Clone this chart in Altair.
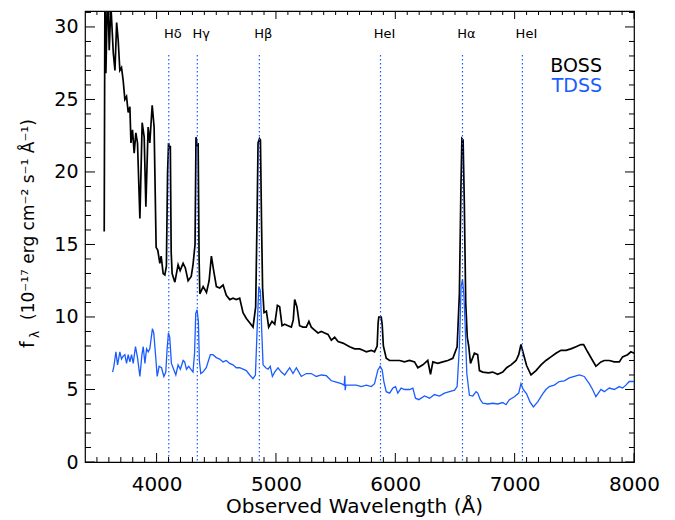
import altair as alt
import pandas as pd

# ---------------- data ----------------
boss_wave = [3561, 3567, 3575, 3590, 3603, 3617, 3637, 3651, 3665, 3678, 3692, 3706, 3720, 3734, 3748,
             3762, 3776, 3785, 3798, 3812, 3826, 3840, 3860, 3879, 3896, 3910, 3929, 3943, 3963, 3979,
             3996, 4010, 4027, 4038, 4055, 4069, 4082, 4092, 4100, 4108, 4115, 4122, 4130, 4153, 4180,
             4197, 4222, 4240, 4264, 4290, 4305, 4322, 4330, 4340, 4348, 4356, 4362, 4390, 4418, 4440,
             4459, 4478, 4501, 4529, 4557, 4584, 4613, 4640, 4668, 4696, 4724, 4752, 4780, 4808, 4830,
             4842, 4850, 4862, 4870, 4880, 4888, 4900, 4920, 4939, 4967, 4990, 5012, 5031, 5051, 5073,
             5101, 5129, 5145, 5157, 5176, 5198, 5226, 5254, 5276, 5296, 5324, 5352, 5380, 5408, 5436,
             5464, 5492, 5520, 5561, 5617, 5659, 5701, 5729, 5757, 5799, 5826, 5848, 5856, 5862, 5882,
             5890, 5900, 5924, 5952, 5994, 6036, 6077, 6119, 6161, 6189, 6231, 6272, 6295, 6315, 6356,
             6398, 6440, 6482, 6518, 6537, 6550, 6558, 6568, 6578, 6590, 6603, 6615, 6630, 6663, 6690,
             6705, 6733, 6780, 6816, 6858, 6900, 6933, 6970, 7012, 7034, 7053, 7072, 7100, 7137, 7179,
             7221, 7262, 7304, 7346, 7388, 7430, 7471, 7514, 7555, 7578, 7611, 7653, 7681, 7723, 7751,
             7793, 7835, 7877, 7904, 7946, 7974, 8002]
boss_flux = [15.9, 33.0, 26.8, 33.0, 28.4, 31.5, 28.2, 27.0, 30.3, 29.1, 27.0, 27.2, 26.3, 25.0, 25.2,
             24.1, 24.5, 22.0, 22.9, 21.3, 22.7, 22.0, 16.8, 23.4, 22.4, 17.6, 23.1, 22.0, 24.6, 23.1,
             14.8, 14.6, 13.7, 14.2, 13.0, 12.9, 13.5, 20.0, 22.0, 21.6, 21.8, 14.5, 13.0, 12.4, 13.6,
             13.2, 13.7, 13.4, 12.5, 12.8, 13.6, 15.0, 22.4, 21.8, 22.0, 14.0, 11.6, 12.1, 11.7, 12.5,
             14.2, 13.2, 12.1, 12.0, 12.2, 11.5, 11.2, 11.3, 11.2, 11.3, 10.3, 9.9, 9.6, 9.3, 10.7,
             17.0, 22.0, 22.3, 22.2, 16.0, 12.0, 10.3, 10.4, 9.3, 9.7, 9.5, 10.8, 10.7, 9.4, 9.5,
             9.4, 9.3, 9.8, 11.2, 10.7, 9.4, 9.3, 9.3, 9.7, 9.3, 9.1, 8.9, 9.0, 8.9, 8.8,
             8.4, 8.6, 8.3, 8.2, 7.95, 7.8, 7.8, 7.7, 7.6, 7.7, 7.6, 8.0, 9.6, 10.0, 10.0,
             9.5, 8.0, 7.15, 7.0, 7.0, 7.0, 6.9, 7.0, 6.9, 6.5, 6.7, 7.0, 6.05, 6.9, 6.8,
             6.9, 7.0, 7.15, 7.95, 11.6, 19.0, 22.3, 22.2, 18.0, 11.0, 8.6, 8.0, 6.8, 7.5, 7.4,
             6.3, 6.2, 6.15, 6.2, 6.05, 6.2, 6.5, 6.7, 7.0, 7.4, 8.1, 7.5, 6.65, 6.0, 6.3,
             6.7, 7.0, 7.25, 7.5, 7.7, 7.7, 7.8, 7.95, 8.1, 8.1, 7.6, 7.0, 6.6, 6.9, 7.0,
             7.0, 6.9, 6.9, 7.25, 7.4, 7.6, 7.5]

tdss_wave = [3631, 3642, 3659, 3673, 3692, 3706, 3720, 3734, 3748, 3762, 3776, 3790, 3804, 3823, 3840,
             3860, 3877, 3888, 3902, 3916, 3930, 3943, 3965, 3976, 3990, 4005, 4021, 4041, 4061, 4077,
             4088, 4099, 4110, 4124, 4138, 4161, 4180, 4199, 4222, 4235, 4250, 4269, 4286, 4305, 4318,
             4328, 4339, 4350, 4358, 4370, 4388, 4416, 4450, 4472, 4500, 4528, 4557, 4584, 4612, 4640,
             4668, 4696, 4724, 4752, 4780, 4808, 4828, 4841, 4856, 4870, 4881, 4892, 4914, 4934, 4952,
             4970, 4989, 5017, 5045, 5073, 5115, 5143, 5171, 5212, 5254, 5296, 5338, 5380, 5422, 5464,
             5506, 5548, 5572, 5577, 5580, 5586, 5631, 5673, 5715, 5757, 5799, 5826, 5854, 5873, 5890,
             5905, 5924, 5952, 5980, 6002, 6021, 6049, 6077, 6119, 6147, 6169, 6197, 6245, 6287, 6328,
             6370, 6412, 6454, 6496, 6518, 6537, 6551, 6563, 6575, 6585, 6599, 6621, 6649, 6677, 6691,
             6712, 6733, 6775, 6816, 6858, 6900, 6928, 6956, 6998, 7034, 7053, 7072, 7100, 7128, 7157,
             7193, 7235, 7262, 7290, 7332, 7374, 7416, 7458, 7500, 7542, 7583, 7625, 7653, 7681, 7723,
             7751, 7793, 7835, 7877, 7904, 7932, 7960, 8002]
tdss_flux = [6.2, 6.6, 7.6, 6.7, 7.6, 7.1, 7.3, 7.4, 6.8, 7.4, 6.9, 7.4, 6.8, 7.95, 7.2,
             5.9, 7.4, 7.95, 6.8, 7.8, 7.6, 7.8, 9.2, 8.9, 7.5, 5.9, 6.6, 6.5, 5.9, 6.2,
             7.8, 8.9, 8.6, 6.8, 6.5, 6.0, 6.7, 6.4, 7.0, 6.9, 6.4, 6.6, 6.4, 6.2, 7.5,
             10.25, 10.5, 9.7, 7.0, 6.1, 6.2, 6.5, 7.4, 7.4, 7.2, 7.1, 6.9, 7.0, 6.8, 6.7,
             6.5, 6.5, 6.4, 6.3, 6.0, 5.75, 6.0, 8.9, 12.1, 11.8, 9.0, 6.7, 6.5, 6.4, 6.6,
             5.9, 6.2, 6.5, 6.2, 6.0, 6.5, 6.1, 6.5, 5.9, 6.1, 6.1, 5.9, 6.0, 5.95, 5.6,
             5.5, 5.4, 5.3, 5.95, 4.95, 5.3, 5.3, 5.3, 5.2, 5.3, 5.2, 5.4, 6.35, 6.6, 6.35,
             5.5, 4.85, 4.75, 5.1, 5.2, 4.75, 5.1, 5.0, 5.0, 5.1, 4.4, 4.3, 4.55, 4.4, 4.65,
             4.55, 4.75, 4.85, 4.95, 5.2, 7.95, 12.1, 12.6, 11.5, 9.5, 6.1, 4.6, 4.55, 4.85, 4.75,
             4.3, 4.05, 4.0, 4.05, 4.0, 4.1, 3.95, 4.3, 4.5, 4.75, 5.4, 5.0, 4.7, 4.15, 3.8,
             4.15, 4.7, 5.0, 5.2, 5.3, 5.55, 5.6, 5.8, 5.9, 6.0, 5.9, 5.4, 5.0, 4.5, 5.0,
             4.85, 5.1, 5.0, 5.2, 5.1, 5.3, 5.55, 5.55]

line_wave = [4102, 4341, 4861, 5876, 6563, 7065]
line_name = ["H\u03b4", "H\u03b3", "H\u03b2", "HeI", "H\u03b1", "HeI"]

x_major = [4000, 5000, 6000, 7000, 8000]
x_minor = [v for v in range(3500, 8000, 100) if v % 1000 != 0]
y_major = [0, 5, 10, 15, 20, 25, 30]
y_minor = [v for v in range(0, 32) if v % 5 != 0]

y_title_main = "(10\u207b\u00b9\u2077 erg cm\u207b\u00b2 s\u207b\u00b9 \u00c5\u207b\u00b9)"

# ---------------- styling ----------------
W, H = 549, 451
FONT = "DejaVu Sans"
BLUE = "#1a5cff"
xs = alt.Scale(domain=[3400, 8000], nice=False, zero=False)
ys = alt.Scale(domain=[0, 31.1], nice=False, zero=False)

boss = pd.DataFrame({"wave": boss_wave, "flux": boss_flux})
tdss = pd.DataFrame({"wave": tdss_wave, "flux": tdss_flux})
lines = pd.DataFrame({"wave": line_wave, "name": line_name})

x_axis = alt.Axis(values=x_major, format="d", ticks=False, domain=False, grid=False,
                  labelFontSize=20, labelPadding=12, labelFont=FONT, labelColor="black",
                  labelFlush=False,
                  title="Observed Wavelength (\u00c5)", titleFontSize=20, titleFont=FONT,
                  titleFontWeight="normal", titlePadding=2, titleColor="black", titleX=269)
y_axis = alt.Axis(values=y_major, format="d", ticks=False, domain=False, grid=False,
                  labelFontSize=19, labelPadding=7, labelFont=FONT, labelColor="black",
                  labelFlush=False, title=None)

boss_line = alt.Chart(boss).mark_line(color="black", strokeWidth=1.7, clip=True).encode(
    x=alt.X("wave:Q", scale=xs, axis=x_axis),
    y=alt.Y("flux:Q", scale=ys, axis=y_axis),
)
tdss_line = alt.Chart(tdss).mark_line(color=BLUE, strokeWidth=1.3, clip=True).encode(
    x=alt.X("wave:Q", scale=xs),
    y=alt.Y("flux:Q", scale=ys),
)
dotted = alt.Chart(lines).mark_rule(color=BLUE, strokeDash=[1.5, 2.5], strokeWidth=1.2).encode(
    x=alt.X("wave:Q", scale=xs),
    y=alt.value(44), y2=alt.value(H),
)
labels = alt.Chart(lines).mark_text(font=FONT, fontSize=13, color="black", baseline="alphabetic",
                                    align="center", dx=4).encode(
    x=alt.X("wave:Q", scale=xs),
    y=alt.value(27),
    text="name:N",
)
leg_boss = alt.Chart(pd.DataFrame({"t": ["BOSS"]})).mark_text(
    font=FONT, fontSize=19, color="black", align="right", baseline="alphabetic").encode(
    x=alt.value(517), y=alt.value(61), text="t:N")
leg_tdss = alt.Chart(pd.DataFrame({"t": ["TDSS"]})).mark_text(
    font=FONT, fontSize=19, color=BLUE, align="right", baseline="alphabetic").encode(
    x=alt.value(517), y=alt.value(81), text="t:N")

# y-axis title built from pieces so that lambda can be a subscript
yt_f = alt.Chart(pd.DataFrame({"t": ["f"]})).mark_text(
    font=FONT, fontSize=19, color="black", align="left", baseline="alphabetic", angle=270).encode(
    x=alt.value(-51), y=alt.value(337), text="t:N")
yt_lam = alt.Chart(pd.DataFrame({"t": ["\u03bb"]})).mark_text(
    font=FONT, fontSize=12, color="black", align="left", baseline="alphabetic", angle=270).encode(
    x=alt.value(-46), y=alt.value(327), text="t:N")
yt_main = alt.Chart(pd.DataFrame({"t": [y_title_main]})).mark_text(
    font=FONT, fontSize=17, color="black", align="left", baseline="alphabetic", angle=270).encode(
    x=alt.value(-51), y=alt.value(309), text="t:N")


def xticks(values, y0, y1):
    return alt.Chart(pd.DataFrame({"wave": values})).mark_rule(color="black", strokeWidth=1).encode(
        x=alt.X("wave:Q", scale=xs), y=alt.value(y0), y2=alt.value(y1))


def yticks(values, x0, x1):
    return alt.Chart(pd.DataFrame({"flux": values})).mark_rule(color="black", strokeWidth=1).encode(
        y=alt.Y("flux:Q", scale=ys), x=alt.value(x0), x2=alt.value(x1))


ticks = [
    xticks(x_major, H, H - 9), xticks(x_minor, H, H - 5),
    xticks(x_major, 0, 8), xticks(x_minor, 0, 4),
    yticks(y_major, 0, 10), yticks(y_minor, 0, 6),
    yticks(y_major, W, W - 9), yticks(y_minor, W, W - 5),
]

chart = alt.layer(boss_line, tdss_line, dotted, labels, leg_boss, leg_tdss,
                  yt_f, yt_lam, yt_main, *ticks).properties(
    width=W, height=H,
    padding={"left": 85, "top": 11, "right": 41, "bottom": 58},
    autosize=alt.AutoSizeParams(type="none"),
).configure(background="white").configure_view(stroke="black", strokeWidth=1.2)

chart.save("out.html", embed_options={"renderer": "svg", "actions": False})
